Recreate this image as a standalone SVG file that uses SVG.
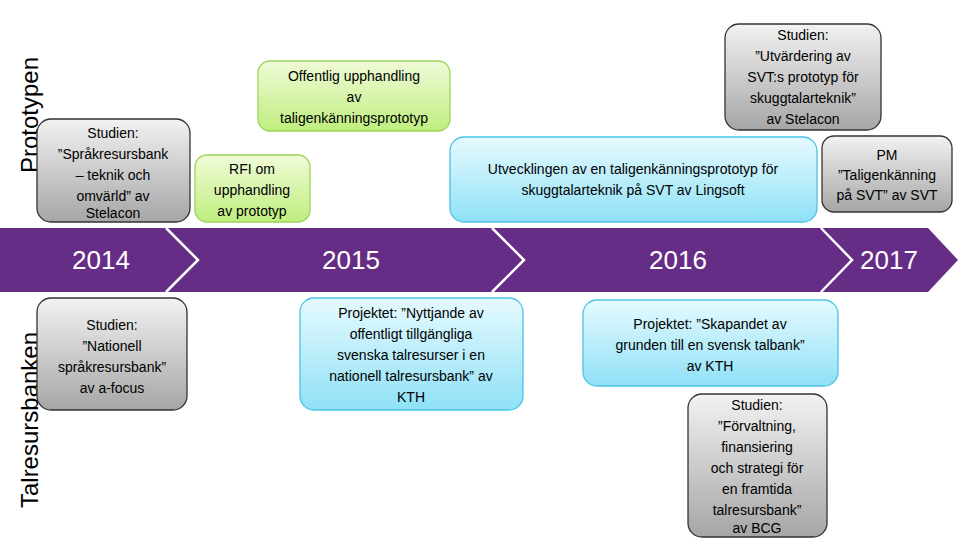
<svg xmlns="http://www.w3.org/2000/svg" width="960" height="540" viewBox="0 0 960 540">
<defs>
<linearGradient id="gg" x1="0" y1="0" x2="0" y2="1"><stop offset="0" stop-color="#f2f2f2"/><stop offset="1" stop-color="#a6a6a6"/></linearGradient>
<linearGradient id="gn" x1="0" y1="0" x2="0" y2="1"><stop offset="0" stop-color="#f0fbd8"/><stop offset="1" stop-color="#bfee7e"/></linearGradient>
<linearGradient id="bl" x1="0" y1="0" x2="0" y2="1"><stop offset="0" stop-color="#e6fafe"/><stop offset="1" stop-color="#8fe1f7"/></linearGradient>
</defs>
<style>
text{font-family:"Liberation Sans",Arial,sans-serif;font-size:14px;fill:#000;text-anchor:middle}
.g{fill:url(#gg);stroke:#333;stroke-width:1.3}
.n{fill:url(#gn);stroke:#9bd45a;stroke-width:1.3}
.b{fill:url(#bl);stroke:#4cc3e6;stroke-width:1.3}
.yr{fill:#fff;font-size:26px}
.side{font-size:24px}
.ch{fill:none;stroke:#fff;stroke-width:2.5}
</style>
<rect width="960" height="540" fill="#fff"/>
<g id="band">
<path d="M0 228 H928 L958 260 L928 292 H0 Z" fill="#662d86"/>
<g id="connectors">
<path class="ch" d="M166 228 L198 260 L166 292"/>
<path class="ch" d="M492 228 L524 260 L492 292"/>
<path class="ch" d="M821 228 L852 260 L821 292"/>
</g>
<text class="yr" x="101" y="269">2014</text>
<text class="yr" x="351" y="269">2015</text>
<text class="yr" x="678" y="269">2016</text>
<text class="yr" x="889" y="269">2017</text>
</g>
<text class="side" transform="translate(38 115) rotate(-90)">Prototypen</text>
<text class="side" transform="translate(38 420) rotate(-90)">Talresursbanken</text>
<g id="n1"><rect class="g" x="37" y="119" width="153" height="103" rx="14"/>
<text x="113" y="138">Studien:</text><text x="113" y="159">”Språkresursbank</text><text x="113" y="180">– teknik och</text><text x="113" y="201">omvärld” av</text><text x="113" y="218">Stelacon</text></g>
<g id="n2"><rect class="n" x="195" y="155" width="115" height="67" rx="12"/>
<text x="252" y="174">RFI om</text><text x="252" y="195">upphandling</text><text x="252" y="216">av prototyp</text></g>
<g id="n3"><rect class="n" x="258" y="61" width="192" height="70" rx="12"/>
<text x="354" y="81">Offentlig upphandling</text><text x="354" y="102">av</text><text x="354" y="123">taligenkänningsprototyp</text></g>
<g id="n4"><rect class="b" x="450" y="137" width="367" height="85" rx="14"/>
<text x="633" y="174">Utvecklingen av en taligenkänningsprototyp för</text><text x="633" y="195">skuggtalarteknik  på SVT av Lingsoft</text></g>
<g id="n5"><rect class="g" x="725" y="24" width="156" height="106" rx="14"/>
<text x="803" y="40">Studien:</text><text x="803" y="61">”Utvärdering av</text><text x="803" y="82">SVT:s prototyp för</text><text x="803" y="103">skuggtalarteknik”</text><text x="803" y="124">av Stelacon</text></g>
<g id="n6"><rect class="g" x="822" y="136" width="130" height="76" rx="12"/>
<text x="887" y="160">PM</text><text x="887" y="180">”Taligenkänning</text><text x="887" y="200">på SVT” av SVT</text></g>
<g id="n7"><rect class="g" x="37" y="298" width="150" height="112" rx="14"/>
<text x="112" y="330">Studien:</text><text x="112" y="351">”Nationell</text><text x="112" y="372">språkresursbank”</text><text x="112" y="393">av a-focus</text></g>
<g id="n8"><rect class="b" x="300" y="298" width="223" height="112" rx="14"/>
<text x="411" y="318">Projektet: ”Nyttjande av</text><text x="411" y="339">offentligt tillgängliga</text><text x="411" y="360">svenska talresurser i en</text><text x="411" y="381">nationell talresursbank” av</text><text x="411" y="402">KTH</text></g>
<g id="n9"><rect class="b" x="583" y="300" width="255" height="86" rx="14"/>
<text x="710" y="329">Projektet: ”Skapandet av</text><text x="710" y="350">grunden till en svensk talbank”</text><text x="710" y="371">av KTH</text></g>
<g id="n10"><rect class="g" x="688" y="394" width="139" height="143" rx="14"/>
<text x="757" y="410">Studien:</text><text x="757" y="431">”Förvaltning,</text><text x="757" y="452">finansiering</text><text x="757" y="473">och strategi för</text><text x="757" y="494">en framtida</text><text x="757" y="515">talresursbank”</text><text x="757" y="533">av BCG</text></g>
</svg>
